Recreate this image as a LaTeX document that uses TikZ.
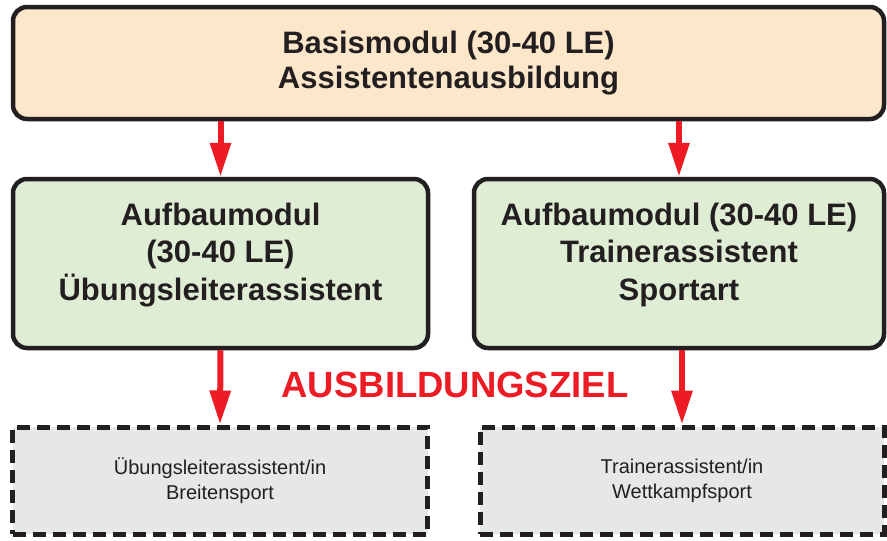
\documentclass[tikz,border=0pt]{standalone}
\usepackage{fontspec}
\setmainfont{Liberation Sans}
\usepackage{tikz}
\usetikzlibrary{arrows.meta}
\usetikzlibrary{positioning}

\definecolor{randschwarz}{HTML}{231F20}
\definecolor{basisorange}{HTML}{FDE7CB}
\definecolor{aufbaugruen}{HTML}{E0EDD5}
\definecolor{zielgrau}{HTML}{E6E7E8}
\definecolor{pfeilrot}{HTML}{ED1C24}

\begin{document}
\begin{tikzpicture}
          [x=1pt, y=-1pt,
           every node/.style={align=center, inner sep=0pt, text=randschwarz},
           modul/.style={draw=randschwarz, line width=4.5pt, rounded corners=14pt,
                         font=\fontsize{31}{37.5}\selectfont\bfseries},
           ziel/.style={draw=randschwarz, line width=5pt, dash pattern=on 13pt off 7pt,
                        fill=zielgrau, font=\fontsize{20}{25}\selectfont},
           pfeil/.style={draw=pfeilrot, line width=6pt,
                         -{Triangle[length=34pt, width=20pt]}}]
          \useasboundingbox (0,0) rectangle (887,541);

          % Module
          \node (basis) [modul, fill=basisorange, minimum width=871pt, minimum height=112pt,
                font=\fontsize{31}{35}\selectfont\bfseries]
                at (448.5,63) {Basismodul (30-40 LE)\\Assistentenausbildung};
          \node (aufbauUL) [modul, fill=aufbaugruen, minimum width=415pt, minimum height=169pt,
                text depth=24pt] at (220.5,263.5) {Aufbaumodul\\(30-40 LE)\\Übungsleiterassistent};
          \node (aufbauTA) [modul, fill=aufbaugruen, minimum width=410pt, minimum height=169pt,
                text depth=24pt] at (679,263.5) {Aufbaumodul (30-40 LE)\\Trainerassistent\\Sportart};

          % Ausbildungsziel
          \node (zielUL) [ziel, minimum width=415pt, minimum height=107pt]
                at (220,480.5) {Übungsleiterassistent/in\\Breitensport};
          \node (zielTA) [ziel, minimum width=404pt, minimum height=107pt]
                at (682,480.5) {Trainerassistent/in\\Wettkampfsport};
          \node (ziel) [text=pfeilrot, font=\fontsize{36.5}{40}\selectfont\bfseries]
                at (455,385) {AUSBILDUNGSZIEL};

          \draw[pfeil] (basis.south -| aufbauUL.north) -- (aufbauUL.north);
          \draw[pfeil] (basis.south -| aufbauTA.north) -- (aufbauTA.north);
          \draw[pfeil] (aufbauUL.south) -- (zielUL.north);
          \draw[pfeil] (aufbauTA.south -| zielTA.north) -- (zielTA.north);

        \end{tikzpicture}
\end{document}
